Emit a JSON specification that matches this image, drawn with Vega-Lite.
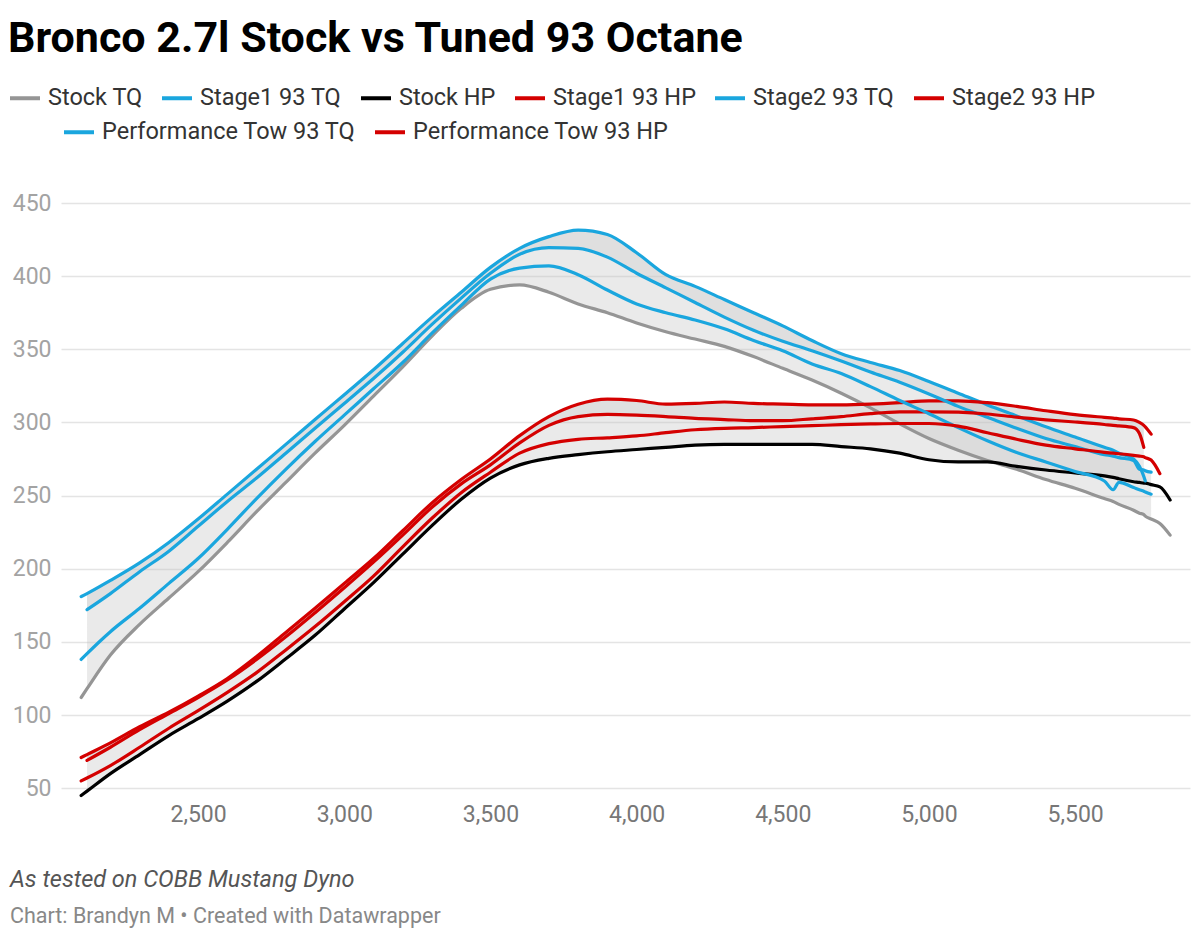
{
  "$schema": "https://vega.github.io/schema/vega-lite/v6.json",
  "width": 1129,
  "height": 594,
  "autosize": {"type": "none"},
  "padding": {"left": 61, "top": 203, "right": 10, "bottom": 143},
  "background": "white",
  "config": {
    "view": {"stroke": null},
    "font": "Roboto",
    "axisX": {"grid": false, "domain": false, "ticks": false, "labelFontSize": 23, "labelColor": "#777777", "labelPadding": 6, "labelFont": "Roboto"},
    "axisY": {"grid": true, "gridColor": "#e4e4e4", "gridWidth": 1.5, "domain": false, "ticks": false, "labelFontSize": 23, "labelColor": "#a3a3a3", "labelPadding": 10, "labelFont": "Roboto"},
    "legend": {
      "orient": "none",
      "direction": "horizontal",
      "labelFont": "Roboto",
      "labelFontSize": 23.5,
      "labelColor": "#333333",
      "labelLimit": 400,
      "labelOffset": 6,
      "symbolType": "stroke",
      "symbolSize": 900,
      "symbolStrokeWidth": 4,
      "columnPadding": 11
    }
  },
  "title": {
    "text": "As tested on COBB Mustang Dyno",
    "subtitle": "Chart: Brandyn M • Created with Datawrapper",
    "orient": "bottom",
    "anchor": "start",
    "frame": "group",
    "dx": -51,
    "offset": 42,
    "font": "Roboto",
    "fontSize": 23.5,
    "fontStyle": "italic",
    "fontWeight": "normal",
    "color": "#555555",
    "subtitleFont": "Roboto",
    "subtitleFontSize": 21.5,
    "subtitleColor": "#888888",
    "subtitlePadding": 14
  },
  "data": {
    "values": [
      {"rpm": 2100, "Stock TQ": 112, "Stage2 93 TQ": 181, "Performance Tow 93 TQ": 138, "Stock HP": 45, "Stage2 93 HP": 71, "Performance Tow 93 HP": 55},
      {"rpm": 2120, "Stock TQ": 118, "Stage1 93 TQ": 172, "Stage2 93 TQ": 183, "Performance Tow 93 TQ": 142, "Stock HP": 48, "Stage1 93 HP": 69, "Stage2 93 HP": 73, "Performance Tow 93 HP": 57},
      {"rpm": 2200, "Stock TQ": 141, "Stage1 93 TQ": 183, "Stage2 93 TQ": 192, "Performance Tow 93 TQ": 157, "Stock HP": 60, "Stage1 93 HP": 78, "Stage2 93 HP": 81, "Performance Tow 93 HP": 65.5},
      {"rpm": 2300, "Stock TQ": 162, "Stage1 93 TQ": 198, "Stage2 93 TQ": 204, "Performance Tow 93 TQ": 173, "Stock HP": 73, "Stage1 93 HP": 90, "Stage2 93 HP": 92, "Performance Tow 93 HP": 78},
      {"rpm": 2400, "Stock TQ": 180, "Stage1 93 TQ": 212, "Stage2 93 TQ": 218, "Performance Tow 93 TQ": 190, "Stock HP": 86, "Stage1 93 HP": 101, "Stage2 93 HP": 102, "Performance Tow 93 HP": 91},
      {"rpm": 2500, "Stock TQ": 198, "Stage1 93 TQ": 229, "Stage2 93 TQ": 234, "Performance Tow 93 TQ": 207, "Stock HP": 97.5, "Stage1 93 HP": 112, "Stage2 93 HP": 113, "Performance Tow 93 HP": 103},
      {"rpm": 2600, "Stock TQ": 218, "Stage1 93 TQ": 246, "Stage2 93 TQ": 251, "Performance Tow 93 TQ": 227, "Stock HP": 109.5, "Stage1 93 HP": 124, "Stage2 93 HP": 125, "Performance Tow 93 HP": 115.5},
      {"rpm": 2700, "Stock TQ": 239, "Stage1 93 TQ": 262, "Stage2 93 TQ": 268, "Performance Tow 93 TQ": 248, "Stock HP": 123, "Stage1 93 HP": 138, "Stage2 93 HP": 140, "Performance Tow 93 HP": 129},
      {"rpm": 2800, "Stock TQ": 259, "Stage1 93 TQ": 279, "Stage2 93 TQ": 285, "Performance Tow 93 TQ": 268, "Stock HP": 138.5, "Stage1 93 HP": 153.5, "Stage2 93 HP": 156.5, "Performance Tow 93 HP": 144.5},
      {"rpm": 2900, "Stock TQ": 279, "Stage1 93 TQ": 296, "Stage2 93 TQ": 302, "Performance Tow 93 TQ": 287, "Stock HP": 154.5, "Stage1 93 HP": 170, "Stage2 93 HP": 173, "Performance Tow 93 HP": 160.5},
      {"rpm": 3000, "Stock TQ": 298, "Stage1 93 TQ": 313, "Stage2 93 TQ": 319, "Performance Tow 93 TQ": 305, "Stock HP": 172.5, "Stage1 93 HP": 187, "Stage2 93 HP": 190, "Performance Tow 93 HP": 177.5},
      {"rpm": 3100, "Stock TQ": 318, "Stage1 93 TQ": 330, "Stage2 93 TQ": 336, "Performance Tow 93 TQ": 323, "Stock HP": 190.5, "Stage1 93 HP": 204.5, "Stage2 93 HP": 207, "Performance Tow 93 HP": 195},
      {"rpm": 3200, "Stock TQ": 338, "Stage1 93 TQ": 348, "Stage2 93 TQ": 354, "Performance Tow 93 TQ": 341, "Stock HP": 210, "Stage1 93 HP": 223, "Stage2 93 HP": 226, "Performance Tow 93 HP": 215},
      {"rpm": 3300, "Stock TQ": 359, "Stage1 93 TQ": 367, "Stage2 93 TQ": 372, "Performance Tow 93 TQ": 361, "Stock HP": 229.5, "Stage1 93 HP": 242, "Stage2 93 HP": 245, "Performance Tow 93 HP": 234.5},
      {"rpm": 3400, "Stock TQ": 378, "Stage1 93 TQ": 385, "Stage2 93 TQ": 389, "Performance Tow 93 TQ": 380, "Stock HP": 247.5, "Stage1 93 HP": 258, "Stage2 93 HP": 261, "Performance Tow 93 HP": 252},
      {"rpm": 3500, "Stock TQ": 391, "Stage1 93 TQ": 402, "Stage2 93 TQ": 406, "Performance Tow 93 TQ": 398, "Stock HP": 262, "Stage1 93 HP": 271, "Stage2 93 HP": 275, "Performance Tow 93 HP": 266},
      {"rpm": 3600, "Stock TQ": 394, "Stage1 93 TQ": 415, "Stage2 93 TQ": 419, "Performance Tow 93 TQ": 405.5, "Stock HP": 271, "Stage1 93 HP": 286, "Stage2 93 HP": 291, "Performance Tow 93 HP": 279},
      {"rpm": 3700, "Stock TQ": 389, "Stage1 93 TQ": 419.5, "Stage2 93 TQ": 427, "Performance Tow 93 TQ": 407, "Stock HP": 275.5, "Stage1 93 HP": 298, "Stage2 93 HP": 304, "Performance Tow 93 HP": 285.5},
      {"rpm": 3800, "Stock TQ": 381, "Stage1 93 TQ": 419, "Stage2 93 TQ": 431.5, "Performance Tow 93 TQ": 401, "Stock HP": 278, "Stage1 93 HP": 304, "Stage2 93 HP": 312.5, "Performance Tow 93 HP": 288.5},
      {"rpm": 3900, "Stock TQ": 375, "Stage1 93 TQ": 413, "Stage2 93 TQ": 428.5, "Performance Tow 93 TQ": 390.5, "Stock HP": 280, "Stage1 93 HP": 305.5, "Stage2 93 HP": 316, "Performance Tow 93 HP": 289.5},
      {"rpm": 4000, "Stock TQ": 368, "Stage1 93 TQ": 402, "Stage2 93 TQ": 416, "Performance Tow 93 TQ": 381, "Stock HP": 281.5, "Stage1 93 HP": 305, "Stage2 93 HP": 315, "Performance Tow 93 HP": 290.8},
      {"rpm": 4100, "Stock TQ": 362, "Stage1 93 TQ": 392, "Stage2 93 TQ": 401, "Performance Tow 93 TQ": 375, "Stock HP": 283, "Stage1 93 HP": 304, "Stage2 93 HP": 312.5, "Performance Tow 93 HP": 293},
      {"rpm": 4200, "Stock TQ": 357, "Stage1 93 TQ": 382, "Stage2 93 TQ": 393, "Performance Tow 93 TQ": 370, "Stock HP": 284.5, "Stage1 93 HP": 302.8, "Stage2 93 HP": 313, "Performance Tow 93 HP": 295},
      {"rpm": 4300, "Stock TQ": 352, "Stage1 93 TQ": 372, "Stage2 93 TQ": 384, "Performance Tow 93 TQ": 364, "Stock HP": 285, "Stage1 93 HP": 302, "Stage2 93 HP": 314, "Performance Tow 93 HP": 296},
      {"rpm": 4400, "Stock TQ": 345, "Stage1 93 TQ": 363, "Stage2 93 TQ": 375, "Performance Tow 93 TQ": 356, "Stock HP": 285, "Stage1 93 HP": 301.2, "Stage2 93 HP": 313, "Performance Tow 93 HP": 296.5},
      {"rpm": 4500, "Stock TQ": 337, "Stage1 93 TQ": 355.5, "Stage2 93 TQ": 366, "Performance Tow 93 TQ": 349, "Stock HP": 285, "Stage1 93 HP": 301.2, "Stage2 93 HP": 312.5, "Performance Tow 93 HP": 297.2},
      {"rpm": 4600, "Stock TQ": 329, "Stage1 93 TQ": 349, "Stage2 93 TQ": 356, "Performance Tow 93 TQ": 340, "Stock HP": 285, "Stage1 93 HP": 302.5, "Stage2 93 HP": 312, "Performance Tow 93 HP": 297.8},
      {"rpm": 4700, "Stock TQ": 320, "Stage1 93 TQ": 342, "Stage2 93 TQ": 347, "Performance Tow 93 TQ": 333.5, "Stock HP": 283.5, "Stage1 93 HP": 304, "Stage2 93 HP": 312, "Performance Tow 93 HP": 298.5},
      {"rpm": 4800, "Stock TQ": 310, "Stage1 93 TQ": 334.5, "Stage2 93 TQ": 341, "Performance Tow 93 TQ": 324.5, "Stock HP": 282, "Stage1 93 HP": 306, "Stage2 93 HP": 312.5, "Performance Tow 93 HP": 299},
      {"rpm": 4900, "Stock TQ": 299, "Stage1 93 TQ": 327.5, "Stage2 93 TQ": 335.5, "Performance Tow 93 TQ": 315, "Stock HP": 279, "Stage1 93 HP": 307.2, "Stage2 93 HP": 313.5, "Performance Tow 93 HP": 299.3},
      {"rpm": 5000, "Stock TQ": 289, "Stage1 93 TQ": 319.5, "Stage2 93 TQ": 328, "Performance Tow 93 TQ": 306, "Stock HP": 274.5, "Stage1 93 HP": 307.3, "Stage2 93 HP": 314.8, "Performance Tow 93 HP": 299.3},
      {"rpm": 5100, "Stock TQ": 281, "Stage1 93 TQ": 311, "Stage2 93 TQ": 320, "Performance Tow 93 TQ": 296.5, "Stock HP": 273, "Stage1 93 HP": 307, "Stage2 93 HP": 314.8, "Performance Tow 93 HP": 297.5},
      {"rpm": 5200, "Stock TQ": 274, "Stage1 93 TQ": 303.5, "Stage2 93 TQ": 312, "Performance Tow 93 TQ": 287.5, "Stock HP": 273, "Stage1 93 HP": 305.8, "Stage2 93 HP": 313.5, "Performance Tow 93 HP": 293},
      {"rpm": 5300, "Stock TQ": 268, "Stage1 93 TQ": 296, "Stage2 93 TQ": 304.5, "Performance Tow 93 TQ": 279.5, "Stock HP": 270, "Stage1 93 HP": 303.6, "Stage2 93 HP": 311, "Performance Tow 93 HP": 288.5},
      {"rpm": 5400, "Stock TQ": 261, "Stage1 93 TQ": 289, "Stage2 93 TQ": 297, "Performance Tow 93 TQ": 273, "Stock HP": 267.5, "Stage1 93 HP": 301.8, "Stage2 93 HP": 308, "Performance Tow 93 HP": 284.5},
      {"rpm": 5500, "Stock TQ": 255, "Stage1 93 TQ": 283.5, "Stage2 93 TQ": 290, "Performance Tow 93 TQ": 266.5, "Stock HP": 265.5, "Stage1 93 HP": 300.3, "Stage2 93 HP": 305.3, "Performance Tow 93 HP": 282},
      {"rpm": 5600, "Stock TQ": 248, "Stage1 93 TQ": 278, "Stage2 93 TQ": 283, "Performance Tow 93 TQ": 260, "Stock HP": 263.5, "Stage1 93 HP": 298.6, "Stage2 93 HP": 303.5, "Performance Tow 93 HP": 279.6},
      {"rpm": 5630, "Stock TQ": 246, "Stage1 93 TQ": 277, "Stage2 93 TQ": 281, "Performance Tow 93 TQ": 254, "Stock HP": 262.5, "Stage1 93 HP": 298, "Stage2 93 HP": 303, "Performance Tow 93 HP": 279},
      {"rpm": 5650, "Stock TQ": 244, "Stage1 93 TQ": 276, "Stage2 93 TQ": 279, "Performance Tow 93 TQ": 259, "Stock HP": 261.5, "Stage1 93 HP": 297.7, "Stage2 93 HP": 302.5, "Performance Tow 93 HP": 278.6},
      {"rpm": 5700, "Stock TQ": 240, "Stage1 93 TQ": 274, "Stage2 93 TQ": 275, "Performance Tow 93 TQ": 255.5, "Stock HP": 259.5, "Stage1 93 HP": 296.5, "Stage2 93 HP": 301.7, "Performance Tow 93 HP": 277.5},
      {"rpm": 5720, "Stock TQ": 238, "Stage1 93 TQ": 268, "Stage2 93 TQ": 270, "Performance Tow 93 TQ": 254, "Stock HP": 259, "Stage1 93 HP": 292.5, "Stage2 93 HP": 300, "Performance Tow 93 HP": 277},
      {"rpm": 5735, "Stock TQ": 237, "Stage1 93 TQ": 267.5, "Stage2 93 TQ": 263, "Performance Tow 93 TQ": 253, "Stock HP": 258.5, "Stage1 93 HP": 283, "Stage2 93 HP": 298, "Performance Tow 93 HP": 276.5},
      {"rpm": 5740, "Stock TQ": 236, "Stage1 93 TQ": 267, "Stage2 93 TQ": 260, "Performance Tow 93 TQ": 252.5, "Stock HP": 258.5, "Stage2 93 HP": 297, "Performance Tow 93 HP": 276},
      {"rpm": 5760, "Stock TQ": 234, "Stage1 93 TQ": 266, "Performance Tow 93 TQ": 251, "Stock HP": 257.5, "Stage2 93 HP": 292, "Performance Tow 93 HP": 274.3},
      {"rpm": 5790, "Stock TQ": 231, "Stock HP": 256, "Performance Tow 93 HP": 265},
      {"rpm": 5825, "Stock TQ": 223, "Stock HP": 247}
    ]
  },
  "encoding": {
    "x": {"field": "rpm", "type": "quantitative", "title": null, "scale": {"domain": [2031, 5893], "nice": false, "zero": false}, "axis": {"values": [2500, 3000, 3500, 4000, 4500, 5000, 5500], "format": ",.0f", "formatType": "number"}}
  },
  "layer": [
    {
      "transform": [{"filter": "isValid(datum['Stock TQ']) && isValid(datum['Stage1 93 TQ'])"}],
      "mark": {"type": "area", "color": "#c4c4c4", "opacity": 0.35, "interpolate": "monotone"},
      "encoding": {
        "y": {"field": "Stock TQ", "type": "quantitative", "title": null, "scale": {"domain": [44, 450], "nice": false, "zero": false}, "axis": {"values": [50, 100, 150, 200, 250, 300, 350, 400, 450]}},
        "y2": {"field": "Stage1 93 TQ"}
      }
    },
    {
      "transform": [{"filter": "isValid(datum['Stage1 93 TQ']) && isValid(datum['Stage2 93 TQ'])"}],
      "mark": {"type": "area", "color": "#c4c4c4", "opacity": 0.55, "interpolate": "monotone"},
      "encoding": {
        "y": {"field": "Stage1 93 TQ", "type": "quantitative"},
        "y2": {"field": "Stage2 93 TQ"}
      }
    },
    {
      "transform": [{"filter": "isValid(datum['Stock HP']) && isValid(datum['Stage1 93 HP'])"}],
      "mark": {"type": "area", "color": "#c4c4c4", "opacity": 0.35, "interpolate": "monotone"},
      "encoding": {
        "y": {"field": "Stock HP", "type": "quantitative"},
        "y2": {"field": "Stage1 93 HP"}
      }
    },
    {
      "transform": [{"filter": "isValid(datum['Stage1 93 HP']) && isValid(datum['Stage2 93 HP'])"}],
      "mark": {"type": "area", "color": "#c4c4c4", "opacity": 0.55, "interpolate": "monotone"},
      "encoding": {
        "y": {"field": "Stage1 93 HP", "type": "quantitative"},
        "y2": {"field": "Stage2 93 HP"}
      }
    },
    {
      "transform": [
        {"fold": ["Stock TQ", "Stage1 93 TQ", "Stock HP", "Stage1 93 HP", "Stage2 93 TQ", "Stage2 93 HP"], "as": ["series", "value"]},
        {"filter": "isValid(datum.value)"}
      ],
      "mark": {"type": "line", "strokeWidth": 3.2, "interpolate": "monotone", "strokeCap": "round", "strokeJoin": "round"},
      "encoding": {
        "y": {"field": "value", "type": "quantitative"},
        "color": {
          "field": "series",
          "type": "nominal",
          "scale": {
            "domain": ["Stock TQ", "Stage1 93 TQ", "Stock HP", "Stage1 93 HP", "Stage2 93 TQ", "Stage2 93 HP"],
            "range": ["#959595", "#1aa6de", "#000000", "#d40000", "#1aa6de", "#d40000"]
          },
          "legend": {
            "legendX": -53,
            "legendY": -185,
            "columns": 6,
            "title": "Bronco 2.7l Stock vs Tuned 93 Octane",
            "titleFont": "Roboto",
            "titleFontSize": 43,
            "titleFontWeight": "bold",
            "titleColor": "#000000",
            "titleLimit": 1200,
            "titlePadding": 20
          }
        }
      }
    },
    {
      "transform": [
        {"fold": ["Performance Tow 93 TQ", "Performance Tow 93 HP"], "as": ["series", "value"]},
        {"filter": "isValid(datum.value)"}
      ],
      "mark": {"type": "line", "strokeWidth": 3.2, "interpolate": "monotone", "strokeCap": "round", "strokeJoin": "round"},
      "encoding": {
        "y": {"field": "value", "type": "quantitative"},
        "stroke": {
          "field": "series",
          "type": "nominal",
          "scale": {
            "domain": ["Performance Tow 93 TQ", "Performance Tow 93 HP"],
            "range": ["#1aa6de", "#d40000"]
          },
          "legend": {
            "legendX": 1,
            "legendY": -88,
            "columns": 2,
            "title": null
          }
        }
      }
    }
  ]
}
